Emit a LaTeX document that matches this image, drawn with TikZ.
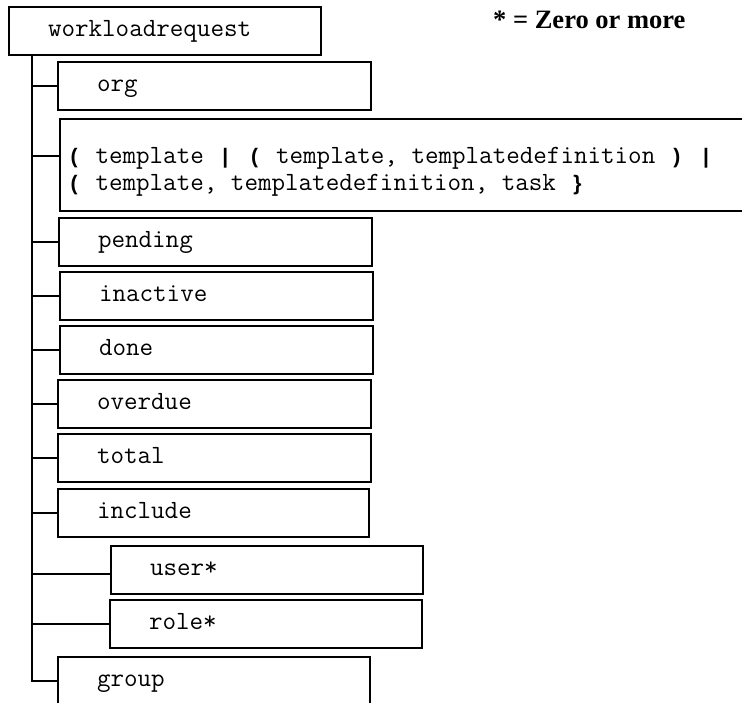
\documentclass[tikz,border=0pt]{standalone}
\usepackage{fontspec}
\setmainfont{Liberation Serif}
\newfontfamily\brkfont{Liberation Sans}
\newcommand\mybrk[1]{\makebox[0.6em]{\brkfont\bfseries\fontsize{21pt}{27pt}\selectfont #1}}
\begin{document}
\begin{tikzpicture}[x=1pt,y=-1pt,
  box/.style={draw, line width=2pt, anchor=north west, minimum height=48pt,
    inner xsep=39pt, inner ysep=0pt, text width=#1, align=left,
    font=\fontsize{26.3pt}{27pt}\selectfont\ttfamily, text height=17pt, text depth=6pt},
  box/.default=234pt,
  link/.style={line width=2pt}]
\useasboundingbox (0,0) rectangle (742,702);
\node[box=234pt] (wr) at (8,6) {workloadrequest};
\node[anchor=base west, font=\fontsize{26.5pt}{30pt}\selectfont\bfseries, inner sep=0pt] (legend) at (493,28) {* = Zero or more};
\node[box=235pt] (org) at (57,61) {org};
\node[draw, line width=2pt, anchor=north west, minimum width=720pt, minimum height=92pt, inner sep=0pt] (tpl) at (59,118) {};
\node[anchor=base west, inner sep=0pt, align=left, font=\fontsize{26.3pt}{27pt}\selectfont\ttfamily] (tpltext) at (66,190)
  {\mybrk{(} template \mybrk{|} \mybrk{(} template, templatedefinition \mybrk{)} \mybrk{|}\\
   \mybrk{(} template, templatedefinition, task \mybrk{\}}};
\node[box=235pt] (pending) at (58,217) {pending};
\node[box=235pt] (inactive) at (59,271) {inactive};
\node[box=235pt] (done) at (59,325) {done};
\node[box=235pt] (overdue) at (57,379) {overdue};
\node[box=235pt] (total) at (57,433) {total};
\node[box=233pt] (include) at (57,488) {include};
\node[box=234pt] (user) at (110,545) {user*};
\node[box=234pt] (role) at (109,599) {role*};
\node[box=234pt] (group) at (57,656) {group};
\coordinate (tx) at ([xshift=24pt]wr.south west);
\draw[link] (tx) |- (group.west);
\foreach \n in {org,pending,inactive,done,overdue,total,include,role}
  \draw[link] (\n.west) -- (\n.west -| tx);
\draw[link] ([yshift=9pt]tpl.west) -- ([yshift=9pt]tpl.west -| tx);
\draw[link] ([yshift=-4pt]user.west) -- ([yshift=-4pt]user.west -| tx);
\end{tikzpicture}
\end{document}
